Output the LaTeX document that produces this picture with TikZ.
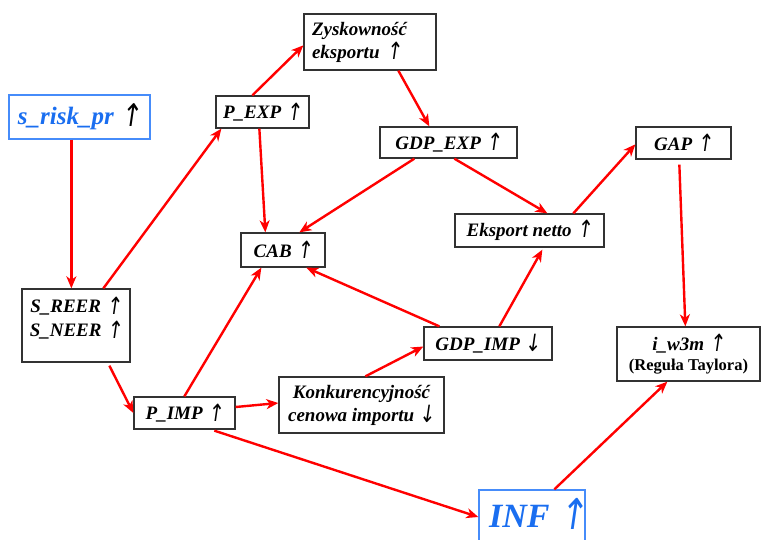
\documentclass[tikz,border=0pt]{standalone}
\usepackage{fontspec}
\usepackage{graphicx}
\setmainfont{Liberation Serif}
\newfontfamily\arrowfont{DejaVu Sans}[FakeSlant=0.18]
\newcommand\upa{\raisebox{-0.08em}{\scalebox{1}[1.25]{\arrowfont\mdseries ↑}}}
\newcommand\downa{\raisebox{-0.08em}{\scalebox{1}[1.25]{\arrowfont\mdseries ↓}}}
\usetikzlibrary{arrows.meta,calc}
\definecolor{bluetxt}{RGB}{26,110,240}
\definecolor{bluebox}{RGB}{70,140,250}
\definecolor{boxgray}{RGB}{50,50,50}
\begin{document}
\begin{tikzpicture}[x=1pt,y=-1pt,
  box/.style={draw=boxgray, line width=1.3pt, inner sep=0pt, align=center,
    font=\fontsize{19}{23}\selectfont\bfseries\itshape},
  txt/.style={inner sep=0pt, align=center, font=\fontsize{19}{24}\selectfont\bfseries\itshape},
  con/.style={draw=red, line width=2.4pt, -{Stealth[length=12pt,width=10pt,inset=3.5pt]}}]
\useasboundingbox (0,0) rectangle (761,539);
\node[box, draw=bluebox, text=bluetxt, minimum width=141pt, minimum height=44pt,
  font=\fontsize{25}{28}\selectfont\bfseries\itshape] (risk) at (79.5,117) {s\_risk\_pr \textcolor{black}{\upa}};
\node[box, minimum width=132pt, minimum height=56pt, text width=116pt, align=left] (zysk) at (370,42) {Zyskowność\\eksportu \upa};
\node[box, minimum width=93pt, minimum height=32pt] (pexp) at (262.5,112) {P\_EXP \upa};
\node[box, minimum width=137pt, minimum height=31pt] (gdpexp) at (448.5,142.5) {GDP\_EXP \upa};
\node[box, minimum width=95pt, minimum height=32pt] (gap) at (683.5,143) {GAP \upa};
\node[box, minimum width=149pt, minimum height=33pt] (eksp) at (529.5,230.5) {Eksport netto \upa};
\node[box, minimum width=84pt, minimum height=34pt] (cab) at (283,250) {CAB \upa};
\node[box, minimum width=108pt, minimum height=73pt] (sreer) at (76,325.5) {};
\node[txt] (sreert) at (76,318) {S\_REER \upa\\S\_NEER \upa};
\node[box, minimum width=128pt, minimum height=33pt] (gdpimp) at (488,343.5) {GDP\_IMP \downa};
\node[box, minimum width=143pt, minimum height=54pt] (iw3m) at (688.5,354) {i\_w3m \upa\\[-3pt]{\fontsize{16.5}{18}\selectfont\upshape (Reguła Taylora)}};
\node[box, minimum width=101pt, minimum height=32pt] (pimp) at (184.5,413) {P\_IMP \upa};
\node[box, minimum width=165pt, minimum height=56pt] (konk) at (361.5,405) {Konkurencyjność\\cenowa importu \downa};
\node[box, draw=bluebox, minimum width=106pt, minimum height=62pt] (inf) at (532,521) {};
\node[txt, anchor=base west, text=bluetxt, font=\fontsize{34}{38}\selectfont\bfseries\itshape] (inft) at (489,527) {INF \upa};

\draw[con] ($(risk.south west)+(63,0)$) -- ($(sreer.north west)+(50,0)$);
\draw[con] ($(sreer.north west)+(82,0)$) -- ($(pexp.south west)+(6,0)$);
\draw[con] ($(sreer.south west)+(88,3)$) -- (pimp.west);
\draw[con] ($(pexp.north west)+(37,0)$) -- ($(zysk.north west)+(0,32)$);
\draw[con] ($(pexp.south west)+(44,0)$) -- ($(cab.north west)+(25,0)$);
\draw[con] ($(zysk.south west)+(95,0)$) -- ($(gdpexp.north west)+(50,0)$);
\draw[con] ($(gdpexp.south west)+(35,0)$) -- ($(cab.north west)+(59,0)$);
\draw[con] ($(gdpexp.south west)+(75,0)$) -- ($(eksp.north west)+(93,0)$);
\draw[con] ($(eksp.north west)+(119,0)$) -- ($(gap.north west)+(0,18)$);
\draw[con] ($(gap.south west)+(44,5)$) -- ($(iw3m.north west)+(69,0)$);
\draw[con] ($(gdpimp.north west)+(16,0)$) -- ($(cab.south west)+(66,0)$);
\draw[con] ($(gdpimp.north west)+(76,0)$) -- ($(eksp.south west)+(88,2)$);
\draw[con] ($(pimp.north west)+(51,0)$) -- ($(cab.south west)+(21,0)$);
\draw[con] ($(pimp.east)+(0,-6)$) -- ($(konk.west)+(0,-2)$);
\draw[con] ($(konk.north west)+(87,0)$) -- ($(gdpimp.west)+(0,3)$);
\draw[con] ($(pimp.south west)+(81,1)$) -- ($(inf.west)+(0,-4)$);
\draw[con] ($(inf.north west)+(76,0)$) -- ($(iw3m.south west)+(51,0)$);
\end{tikzpicture}
\end{document}
